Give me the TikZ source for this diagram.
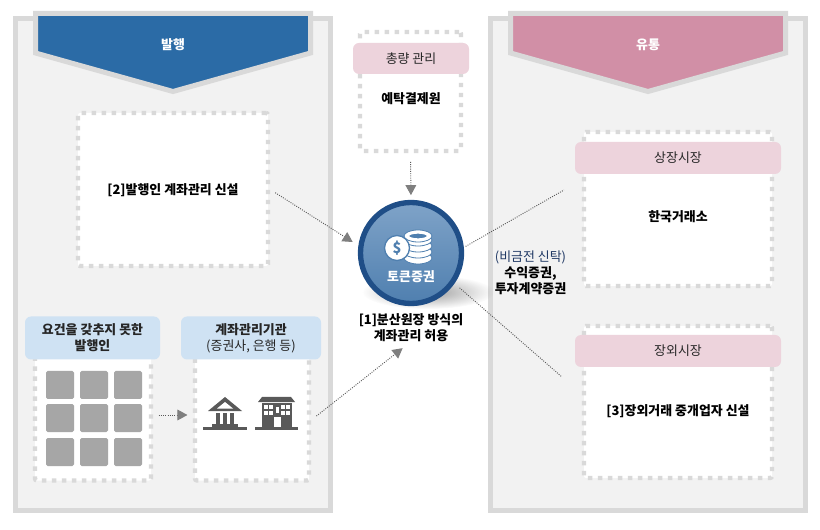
\documentclass[tikz,border=0pt]{standalone}
\usepackage{fontspec}
\setmainfont{Noto Sans CJK KR}
\usetikzlibrary{arrows.meta, positioning, fadings}
\definecolor{panelgray}{HTML}{F2F2F2}
\definecolor{edgegray}{HTML}{D9D9D9}
\definecolor{issueblue}{HTML}{2B6BA6}
\definecolor{tradepink}{HTML}{D18FA6}
\definecolor{headpink}{HTML}{EDD3DC}
\definecolor{headblue}{HTML}{CFE2F3}
\definecolor{tilegray}{HTML}{A6A6A6}
\definecolor{icongray}{HTML}{595959}
\definecolor{tipgray}{HTML}{7F7F7F}
\definecolor{tokenrim}{HTML}{1F4E87}
\definecolor{tokentop}{HTML}{7FA3C8}
\definecolor{tokenlow}{HTML}{4F7FAF}
\definecolor{notenavy}{HTML}{1F3864}
\tikzfading[name=shadowfade, inner color=transparent!45, outer color=transparent!100]
\tikzset{
  % Grey market panels
  panelbox/.style={
    rectangle, minimum width=315*0.75pt, minimum height=492*0.75pt,
    draw=edgegray, fill=panelgray, line width=3.75pt,
  },
  % Pennant at the top of a panel
  pennant/.style={draw=edgegray, fill=#1, line width=3.75pt, line join=miter},
  % White boxes with square dots
  dotbox/.style 2 args={
    rectangle, rounded corners=1.5pt, minimum width=#1*0.75pt, minimum height=#2*0.75pt,
    draw=edgegray, fill=white, line width=3.3pt, dash pattern=on 3.3pt off 4.2pt,
  },
  % Headers sitting on the boxes
  headbox/.style n args={3}{
    rectangle, rounded corners=4.5pt, minimum width=#2*0.75pt, minimum height=#3*0.75pt,
    fill=#1, text=black!85, font=\fontsize{9.7}{12}\selectfont, align=center, inner sep=0pt,
  },
  % Texts
  boldlabel/.style={font=\fontsize{9.7}{12}\selectfont\bfseries, text=black, align=center, inner sep=0pt},
  whitelabel/.style={font=\fontsize{9.7}{12}\selectfont\bfseries, text=white, inner sep=0pt},
  % Arrows
  dotarrow/.style={
    densely dotted, line width=0.7pt, draw=icongray,
    -{Triangle[length=7.5pt, width=8pt, color=tipgray]},
  },
  dotline/.style={densely dotted, line width=0.7pt, draw=icongray},
}

\begin{document}
\begin{tikzpicture}[x=0.75pt, y=-0.75pt]
  \useasboundingbox (0,0) rectangle (820,530);

  % Issuance panel
  \node[panelbox] (issuepanel) at (173,264.5) {};
  \draw[pennant=issueblue] (35.5,13.5) -- (310.5,13.5) -- (310.5,53) -- (173,91.5) -- (35.5,53) -- cycle;
  \node[whitelabel] (issuetitle) at (173,45) {발행};

  % Trading panel
  \node[panelbox] (tradepanel) at (648,264.5) {};
  \draw[pennant=tradepink] (510.5,13.5) -- (785.5,13.5) -- (785.5,53) -- (648,91.5) -- (510.5,53) -- cycle;
  \node[whitelabel] (tradetitle) at (648,45) {유통};

  % Issuer account box
  \node[dotbox={190}{153}] (issuerbox) at (173,189.5) {};
  \node[boldlabel] (issuertext) at (173,190) {[2]발행인 계좌관리 신설};

  % Unqualified issuers
  \node[dotbox={116}{131}] (smallbox) at (93,415) {};
  \node[headbox={headblue}{135}{43}, font=\fontsize{9.7}{12}\selectfont\bfseries] (smallhead) at (92.5,338)
    {요건을 갖추지 못한\\발행인};
  \foreach \col in {60,94,128}
    \foreach \row in {385,418,452}
      \fill[tilegray, rounded corners=1.2pt] (\col-14,\row-14) rectangle (\col+14,\row+14);

  % Account institutions
  \node[dotbox={114}{131}] (agentbox) at (252,415) {};
  \node[headbox={headblue}{140}{43}] (agenthead) at (251,338)
    {\textbf{계좌관리기관}\\(증권사, 은행 등)};

  % Bank icon
  \fill[icongray] (208,411) -- (225,397) -- (242,411) -- cycle;
  \fill[white] (217,408.5) -- (225,402) -- (233,408.5) -- cycle;
  \fill[icongray] (212,424) rectangle (238,426.5);
  \foreach \col in {218,225,232}
    \fill[icongray] (\col-2,412.5) rectangle (\col+2,424);
  \fill[icongray] (203,426.5) rectangle (247,429.5);

  % Office icon
  \fill[icongray] (262,397) -- (291,397) -- (295,402) -- (258,402) -- cycle;
  \fill[icongray] (262,403) rectangle (292,427);
  \fill[icongray] (255,427) rectangle (298,429.5);
  \foreach \col in {266,271,283,288}
    \foreach \row in {407,413}
      \fill[white] (\col-1.7,\row-2) rectangle (\col+1.7,\row+2);
  \fill[white] (273.5,417) rectangle (280.5,427);
  \fill[white] (275.5,407) rectangle (278.5,413);

  % Quantity control
  \node[dotbox={101}{119}] (depositbox) at (410.5,91.5) {};
  \node[headbox={headpink}{116}{31}] (deposithead) at (411,58.5) {총량 관리};
  \node[boldlabel] (deposittext) at (411,99) {예탁결제원};

  % Listed market
  \node[dotbox={188}{154}] (listedbox) at (678,209) {};
  \node[headbox={headpink}{206}{32}] (listedhead) at (678,158) {상장시장};
  \node[boldlabel] (listedtext) at (678,217) {한국거래소};

  % OTC market
  \node[dotbox={188}{152}] (otcbox) at (678,402) {};
  \node[headbox={headpink}{206}{32}] (otchead) at (678,351) {장외시장};
  \node[boldlabel] (otctext) at (678,411) {[3]장외거래 중개업자 신설};

  % Token
  \fill[black!70, path fading=shadowfade] (428,292) ellipse (66 and 17);
  \node[circle, minimum size=101*0.75pt, draw=tokenrim, line width=4pt, top color=tokentop,
        bottom color=tokenlow, inner sep=0pt] (token) at (411,253) {};
  \foreach \row in {258,252,246,240,236}
    \draw[fill=white, draw=tokenlow, line width=0.6pt] (418,\row) ellipse (14 and 6);
  \draw[fill=tokenlow, draw=white, line width=1pt] (418,236) ellipse (9.5 and 3);
  \node[circle, fill=white, draw=tokenlow, line width=1pt, minimum size=25*0.75pt, inner sep=0pt,
        text=tokenlow, font=\fontsize{11}{11}\selectfont\bfseries] (coin) at (397,248) {\$};
  \node[whitelabel] (tokentext) at (411,277) {토큰증권};

  % Labels beside the token
  \node[boldlabel, below=5pt of token] (ledgertext) {[1]분산원장 방식의\\계좌관리 허용};
  \node[boldlabel] (trustnote) at (530.5,273)
    {\textcolor{notenavy}{\mdseries (비금전 신탁)}\\수익증권,\\투자계약증권};

  % Free ends of the market lines
  \coordinate (listedgate) at (564,190);
  \coordinate (otcgate) at (562,377);

  % Arrows
  \draw[dotarrow, shorten <=4.5pt, shorten >=5pt] (issuerbox.east) -- (token.172);
  \draw[dotarrow, shorten <=5pt, shorten >=8pt] (agentbox.-5) -- (ledgertext.south);
  \draw[dotarrow, shorten <=6.5pt, shorten >=3.5pt] (depositbox.south) -- (token.north);
  \draw[dotarrow, shorten <=4pt, shorten >=4pt] (smallbox.east) -- (agentbox.west);
  \draw[dotline, shorten <=1.5pt] (token.6) -- (listedgate);
  \draw[dotline, shorten <=5pt] (token.-35) -- (otcgate);
\end{tikzpicture}
\end{document}
